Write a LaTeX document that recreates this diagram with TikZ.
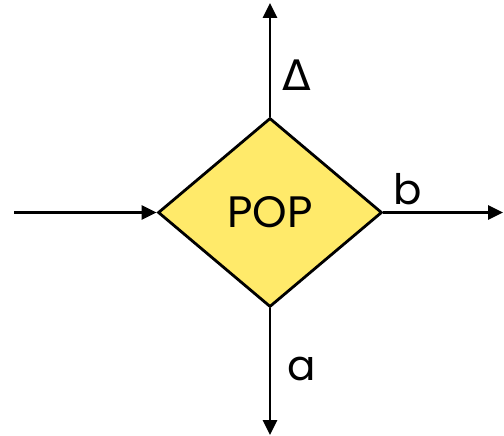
\documentclass[tikz,border=0pt]{standalone}
\usepackage{fontspec}
\setmainfont{Poppins}
\newfontfamily\symfont{DejaVu Sans}
\usepackage{xcolor}
\usetikzlibrary{arrows.meta,shapes.geometric}
\definecolor{popyellow}{HTML}{FFEA6A}

\begin{document}
\begin{tikzpicture}[
  x=1pt, y=-1pt,
  every node/.style={align=center},
  arrow/.style={-{Triangle[length=15pt, width=14pt]}, line width=2.8pt, black},
  lbl/.style={font=\fontsize{42}{46}\selectfont, inner sep=0pt}
]
\useasboundingbox (0,0) rectangle (504,436);

%% Centre: POP diamond
\node[
  diamond, fill=popyellow, draw=black, line width=2.8pt,
  minimum width=224pt, minimum height=189pt, inner sep=0pt,
  font=\fontsize{44}{48}\selectfont
] (pop) at (270,212.5) {POP};

%% Free ends of the four connectors
\coordinate (src) at (14,212.5);
\coordinate (outb) at (503,212.5);
\coordinate (outd) at (270,3);
\coordinate (outa) at (270,435);

%% Connectors
\draw[arrow] (src) -- (pop.west);
\draw[arrow] (pop.east) -- (outb);
\draw[arrow] (pop.north) -- (outd);
\draw[arrow] (pop.south) -- (outa);

%% Labels
\node[lbl, font=\symfont\fontsize{42}{46}\selectfont] (delta) at (297,75) {Δ};
\node[lbl] (blbl) at (408,189) {b};
\node[lbl] (albl) at (302,369) {a};

\end{tikzpicture}
\end{document}
